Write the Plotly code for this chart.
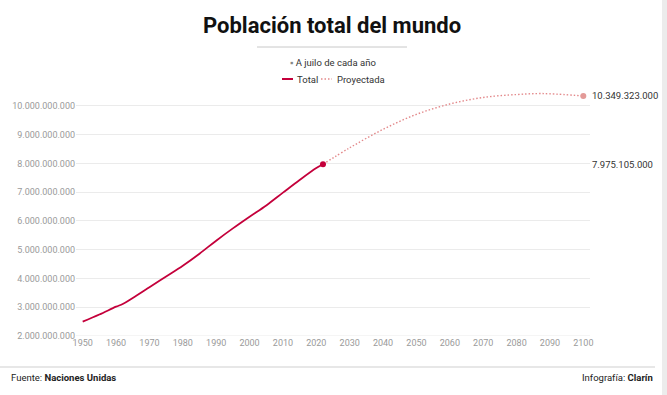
import plotly.graph_objects as go

# ---- data ----
years_total = [1950, 1955, 1960, 1962, 1965, 1970, 1975, 1980, 1985, 1990, 1995, 2000, 2005, 2010, 2015, 2020, 2022]
pop_total = [2499e6, 2746e6, 3019e6, 3112e6, 3322e6, 3695e6, 4069e6, 4444e6, 4862e6, 5316e6, 5743e6,
             6149e6, 6542e6, 6986e6, 7426e6, 7841e6, 7975105000]
years_proj = [2022, 2030, 2040, 2050, 2060, 2070, 2080, 2086, 2090, 2100]
pop_proj = [7975105000, 8546e6, 9188e6, 9709e6, 10069e6, 10297e6, 10398e6, 10431e6, 10424e6, 10349323000]
x_ticks = list(range(1950, 2101, 10))
y_ticks = [2e9, 3e9, 4e9, 5e9, 6e9, 7e9, 8e9, 9e9, 10e9]
label_last = "10.349.323.000"
label_now = "7.975.105.000"

W, H = 667, 395
L, R, T, B = 76, 590, 90, 336
FONT = "Roboto, Arial, sans-serif"
DOTS = "1.5px,2px"

def px(x):
    return (x - L) / (R - L)

def py(y):
    return (B - y) / (B - T)

fig = go.Figure()
fig.add_trace(go.Scatter(x=years_proj, y=pop_proj, mode="lines",
                         line=dict(color="#e3898b", width=1.4, dash=DOTS, shape="spline"),
                         hoverinfo="skip", showlegend=False))
fig.add_trace(go.Scatter(x=years_total, y=pop_total, mode="lines",
                         line=dict(color="#c4003b", width=1.8, shape="spline"),
                         showlegend=False))
fig.add_trace(go.Scatter(x=[years_total[-1]], y=[pop_total[-1]], mode="markers",
                         marker=dict(color="#c4003b", size=6), showlegend=False))
fig.add_trace(go.Scatter(x=[years_proj[-1]], y=[pop_proj[-1]], mode="markers",
                         marker=dict(color="#e39a98", size=6), showlegend=False))

shapes = [
    dict(type="line", xref="paper", yref="paper", x0=px(257), x1=px(407), y0=py(47), y1=py(47),
         line=dict(color="#c8c8c8", width=1)),
    dict(type="line", xref="paper", yref="paper", x0=px(282), x1=px(293), y0=py(79), y1=py(79),
         line=dict(color="#c4003b", width=2)),
    dict(type="line", xref="paper", yref="paper", x0=px(321), x1=px(332), y0=py(79), y1=py(79),
         line=dict(color="#e3898b", width=1.3, dash=DOTS)),
    dict(type="line", xref="paper", yref="paper", x0=px(0), x1=px(655), y0=py(367), y1=py(367),
         line=dict(color="#cfcfcf", width=1)),
    dict(type="rect", xref="paper", yref="paper", x0=px(662), x1=px(667), y0=py(0), y1=py(395),
         line=dict(width=0), fillcolor="#ececec"),
]

annotations = [
    dict(text="<b>Población total del mundo</b>", xref="paper", yref="paper", x=px(332), y=py(26),
         showarrow=False, font=dict(family=FONT, size=22, color="#111"), xanchor="center", yanchor="middle"),
    dict(text="<span style='color:#888'>▪</span> A juilo de cada año", xref="paper", yref="paper",
         x=px(333), y=py(62), showarrow=False, font=dict(family=FONT, size=9.5, color="#333"),
         xanchor="center", yanchor="middle"),
    dict(text="Total", xref="paper", yref="paper", x=px(295), y=py(79), showarrow=False,
         font=dict(family=FONT, size=9.5, color="#333"), xanchor="left", yanchor="middle"),
    dict(text="Proyectada", xref="paper", yref="paper", x=px(335), y=py(79), showarrow=False,
         font=dict(family=FONT, size=9.5, color="#333"), xanchor="left", yanchor="middle"),
    dict(text=label_last, xref="paper", yref="y", x=1.0, y=pop_proj[-1], showarrow=False,
         font=dict(family=FONT, size=9.5, color="#333"), xanchor="left", yanchor="middle"),
    dict(text=label_now, xref="paper", yref="y", x=1.0, y=pop_total[-1], showarrow=False,
         font=dict(family=FONT, size=9.5, color="#333"), xanchor="left", yanchor="middle"),
    dict(text="Fuente: <b>Naciones Unidas</b>", xref="paper", yref="paper", x=px(9), y=py(377),
         showarrow=False, font=dict(family=FONT, size=9.5, color="#222"), xanchor="left", yanchor="middle"),
    dict(text="Infografía: <b>Clarín</b>", xref="paper", yref="paper", x=px(655), y=py(377),
         showarrow=False, font=dict(family=FONT, size=9.5, color="#222"), xanchor="right", yanchor="middle"),
]

fig.update_layout(
    width=W, height=H,
    margin=dict(l=L, r=W - R, t=T, b=H - B),
    paper_bgcolor="white", plot_bgcolor="white",
    separators=",.",
    font=dict(family=FONT, size=9, color="#999"),
    showlegend=False,
    shapes=shapes,
    annotations=annotations,
    xaxis=dict(range=[1948, 2102], tickvals=x_ticks, showgrid=False, zeroline=False, automargin=False,
               showline=False, ticks="", tickfont=dict(family=FONT, size=9, color="#9a9a9a")),
    yaxis=dict(range=[2e9, 10.556e9], tickvals=y_ticks, tickformat=",d", showgrid=True, automargin=False,
               gridcolor="#ebebeb", gridwidth=1, zeroline=False, showline=False, ticks="",
               tickfont=dict(family=FONT, size=9, color="#9a9a9a")),
)
fig.add_hline(y=2e9, line=dict(color="#ebebeb", width=1), layer="below")

fig.write_html("out.html", config={"displayModeBar": False},
               post_script="document.body.style.margin='0';")
